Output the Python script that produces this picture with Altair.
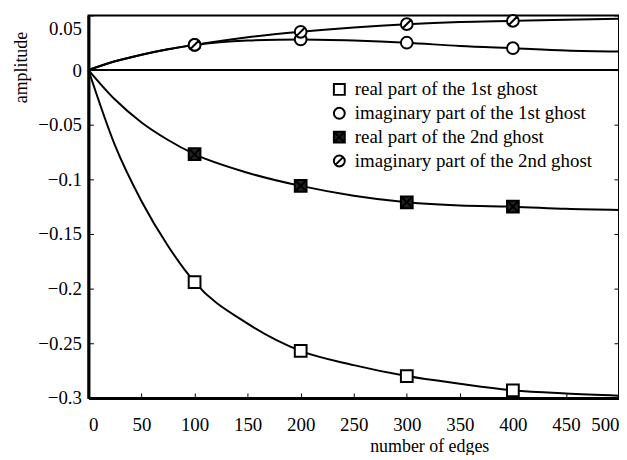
import altair as alt
import pandas as pd

# ---- data ----
x_vals = [0, 25, 50, 75, 100, 150, 200, 250, 300, 350, 400, 450, 500]
real1 = [0, -0.069, -0.120, -0.161, -0.194, -0.232, -0.257, -0.270, -0.280, -0.287, -0.293, -0.296, -0.298]
imag1 = [0, 0.008, 0.014, 0.019, 0.023, 0.027, 0.028, 0.027, 0.025, 0.022, 0.020, 0.018, 0.017]
real2 = [0, -0.027, -0.048, -0.064, -0.077, -0.094, -0.106, -0.115, -0.121, -0.124, -0.125, -0.127, -0.128]
imag2 = [0, 0.008, 0.014, 0.019, 0.023, 0.030, 0.035, 0.039, 0.042, 0.044, 0.045, 0.046, 0.047]
marker_x = [100, 200, 300, 400]

series_names = [
    "real part of the 1st ghost",
    "imaginary part of the 1st ghost",
    "real part of the 2nd ghost",
    "imaginary part of the 2nd ghost",
]
series_values = [real1, imag1, real2, imag2]
y_ticks = [0.05, 0, -0.05, -0.1, -0.15, -0.2, -0.25, -0.3]
x_ticks = [0, 50, 100, 150, 200, 250, 300, 350, 400, 450, 500]

rows = []
for name, vals in zip(series_names, series_values):
    for xv, yv in zip(x_vals, vals):
        rows.append({"edges": xv, "amplitude": yv, "series": name})
df = pd.DataFrame(rows)
df_pts = df[df["edges"].isin(marker_x)]
zero_df = pd.DataFrame({"amplitude": [0]})

FONT = "Liberation Serif"

shape_paths = [
    "M-1,-1H1V1H-1Z",
    "M-1,0A1,1,0,1,1,1,0A1,1,0,1,1,-1,0Z",
    "M-1,-1H1V1H-1Z M-1,-1L1,1 M-1,1L1,-1",
    "M-1,0A1,1,0,1,1,1,0A1,1,0,1,1,-1,0Z M-0.7,0.7L0.7,-0.7",
]
fills = ["white", "white", "#222222", "white"]
strokes = ["black", "black", "black", "black"]

x_enc = alt.X(
    "edges:Q",
    scale=alt.Scale(domain=[0, 500], nice=False),
    axis=alt.Axis(
        title="number of edges",
        values=x_ticks,
        format="d",
        grid=False,
        tickSize={"expr": "-5"},
        tickColor="black",
        labelPadding=23,
        labelFont=FONT,
        titleX=343,
        titleY=49,
        titleBaseline="middle",
    ),
)
y_enc = alt.Y(
    "amplitude:Q",
    scale=alt.Scale(domain=[-0.3, 0.05], nice=False, zero=False),
    axis=alt.Axis(
        title="amplitude",
        values=y_ticks,
        format="~g",
        grid=False,
        tickSize={"expr": "-5"},
        tickColor="black",
        labelPadding=12,
        labelFont=FONT,
        labelOffset=alt.condition("datum.value > 0.04", alt.value(13), alt.value(0)),
        titleX=-67,
        titleY=52,
        titleAlign="center",
        titleBaseline="middle",
        titleAngle=-90,
    ),
)

legend_opts = dict(
    title=None,
    orient="none",
    legendX=243,
    legendY=65,
    padding=0,
    labelFont=FONT,
    labelFontSize=19,
    labelColor="black",
    labelOffset=6,
    labelLimit=0,
    rowPadding=4,
    symbolSize=120,
    symbolStrokeWidth=2,
)

lines = alt.Chart(df).mark_line(color="black", strokeWidth=2, interpolate="monotone").encode(
    x=x_enc, y=y_enc, detail="series:N"
)

points = alt.Chart(df_pts).mark_point(
    strokeWidth=2, opacity=1, fillOpacity=1, strokeOpacity=1, size=140, filled=True
).encode(
    x="edges:Q",
    y=alt.Y("amplitude:Q", axis=None),
    shape=alt.Shape("series:N", scale=alt.Scale(domain=series_names, range=shape_paths),
                    legend=alt.Legend(**legend_opts)),
    fill=alt.Fill("series:N", scale=alt.Scale(domain=series_names, range=fills),
                  legend=alt.Legend(**legend_opts)),
    stroke=alt.Stroke("series:N", scale=alt.Scale(domain=series_names, range=strokes),
                      legend=alt.Legend(**legend_opts)),
)

zero_line = alt.Chart(zero_df).mark_rule(color="black", strokeWidth=2).encode(
    y=alt.Y(
        "amplitude:Q",
        axis=alt.Axis(
            orient="right",
            title=None,
            labels=False,
            domain=False,
            grid=False,
            values=y_ticks,
            tickSize={"expr": "-5"},
            tickColor="black",
        ),
    )
)

chart = (
    alt.layer(zero_line, lines, points)
    .resolve_axis(y="independent")
    .properties(
        width=534,
        height=385,
        autosize=alt.AutoSizeParams(type="none"),
        padding={"left": 81, "top": 6, "right": 0, "bottom": 56},
        background="white",
    )
    .configure_view(stroke="black", strokeWidth=2)
    .configure_axis(
        labelFont=FONT,
        titleFont=FONT,
        labelFontSize=19,
        titleFontSize=18,
        titleFontWeight="normal",
        labelColor="black",
        titleColor="black",
        domainColor="black",
        domainWidth=3,
    )
)

chart.save("out.html", embed_options={"renderer": "svg", "actions": False})
